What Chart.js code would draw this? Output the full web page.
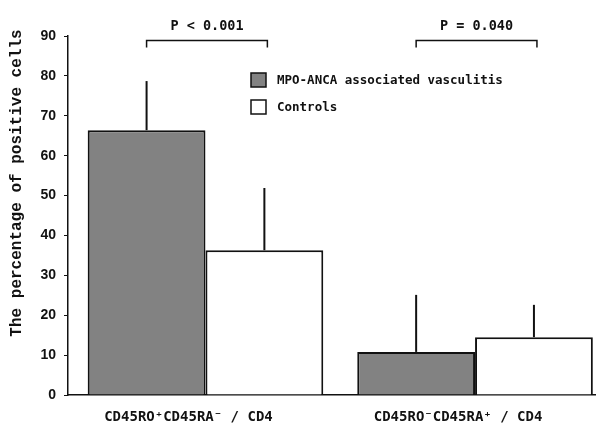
<!DOCTYPE html>
<html><head><meta charset="utf-8">
<script src="https://cdn.jsdelivr.net/npm/chart.js@4.4.1/dist/chart.umd.min.js"></script>
<style>html,body{margin:0;padding:0;background:#fff;overflow:hidden}</style>
</head><body>
<canvas id="c" width="599" height="431"></canvas>
<script>
const categories = ["CD45RO\u207ACD45RA\u207B / CD4", "CD45RO\u207BCD45RA\u207A / CD4"];
const seriesNames = ["MPO-ANCA associated vasculitis", "Controls"];
const mpoMean = [66.4, 10.8];
const mpoSD = [12.3, 14.3];
const controlMean = [36.3, 14.5];
const controlSD = [15.6, 8.1];
const pValues = ["P < 0.001", "P = 0.040"];
const yTitle = "The percentage of positive cells";

const INK = '#111';
const DARK = '#828282';
const monoBold = (s) => ({family: '"DejaVu Sans Mono", monospace', size: s, weight: 'bold'});

const annot = {
  id: 'annot',
  afterDatasetsDraw(chart) {
    const ctx = chart.ctx, ys = chart.scales.y, ca = chart.chartArea;
    const metas = [chart.getDatasetMeta(0), chart.getDatasetMeta(1)];
    const means = [mpoMean, controlMean], sds = [mpoSD, controlSD];
    ctx.save();
    ctx.strokeStyle = INK; ctx.lineWidth = 2;
    metas.forEach((m, i) => {
      m.data.forEach((bar, j) => {
        ctx.beginPath();
        ctx.moveTo(bar.x, bar.y);
        ctx.lineTo(bar.x, ys.getPixelForValue(means[i][j] + sds[i][j]));
        ctx.stroke();
      });
    });
    // brackets and p-values
    ctx.lineWidth = 1.5;
    ctx.fillStyle = INK;
    ctx.textAlign = 'center'; ctx.textBaseline = 'middle';
    ctx.font = 'bold 13.5px "DejaVu Sans Mono", monospace';
    pValues.forEach((p, j) => {
      const x1 = metas[0].data[j].x, x2 = metas[1].data[j].x + 3;
      const by = Math.round(ys.getPixelForValue(89)) + 0.5;
      ctx.beginPath();
      ctx.moveTo(x1, by + 7); ctx.lineTo(x1, by); ctx.lineTo(x2, by); ctx.lineTo(x2, by + 7);
      ctx.stroke();
      ctx.fillText(p, (x1 + x2) / 2, by - 14);
    });
    // legend
    const lx = ca.left + 183, ly = ca.top + 37;
    ctx.textAlign = 'left';
    ctx.font = 'bold 12.5px "DejaVu Sans Mono", monospace';
    seriesNames.forEach((name, i) => {
      const by = ly + i * 27;
      ctx.fillStyle = i === 0 ? DARK : '#fff';
      ctx.fillRect(lx, by, 15, 14);
      ctx.lineWidth = 1.5;
      ctx.strokeRect(lx, by, 15, 14);
      ctx.fillStyle = INK;
      ctx.fillText(name, lx + 26, by + 7.5);
    });
    // y title
    ctx.save();
    ctx.translate(17, ca.top + 147);
    ctx.rotate(-Math.PI / 2);
    ctx.textAlign = 'center';
    ctx.font = 'bold 16px "Liberation Mono", monospace';
    ctx.fillText(yTitle, 0, 0);
    ctx.restore();
    ctx.restore();
  }
};

new Chart(document.getElementById('c'), {
  type: 'bar',
  data: {
    datasets: [
      {label: seriesNames[0], data: mpoMean.map((v, i) => ({x: i, y: v})), backgroundColor: DARK, borderColor: INK, borderWidth: 2, categoryPercentage: 0.874, barPercentage: 1},
      {label: seriesNames[1], data: controlMean.map((v, i) => ({x: i, y: v})), backgroundColor: '#fff', borderColor: INK, borderWidth: 2, categoryPercentage: 0.874, barPercentage: 1}
    ]
  },
  options: {
    responsive: false, animation: false, devicePixelRatio: 1,
    layout: {padding: {top: 36, right: 4, left: 0, bottom: 0}},
    plugins: {legend: {display: false}, tooltip: {enabled: false}},
    scales: {
      x: {
        type: 'linear', min: -0.51, max: 1.445, offset: false,
        afterBuildTicks(s) { s.ticks = [{value: 0}, {value: 1}]; },
        ticks: {callback: (v) => categories[v], labelOffset: -17, padding: 14, font: monoBold(14), color: INK, maxRotation: 0, autoSkip: false},
        grid: {display: false, drawTicks: false},
        border: {color: INK, width: 1.5},
        afterFit(s) { s.height = 36; }
      },
      y: {
        min: 0, max: 90,
        ticks: {stepSize: 10, padding: 8, color: INK, font: {family: '"Liberation Sans", Arial, sans-serif', size: 14, weight: 'bold'}},
        grid: {drawOnChartArea: false, tickLength: 4, color: INK},
        border: {color: INK, width: 1.5},
        afterFit(s) { s.width = 68; }
      }
    }
  },
  plugins: [annot]
});
</script>
</body></html>
